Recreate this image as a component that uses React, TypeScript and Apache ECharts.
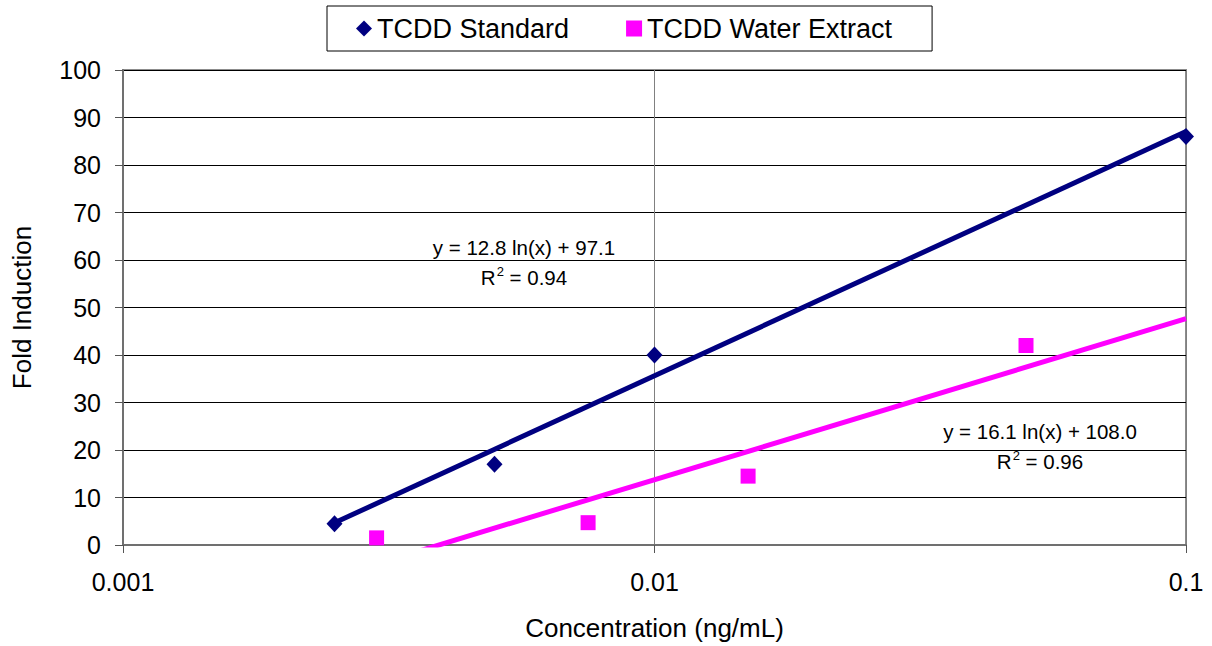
import React, { useEffect, useRef } from "react";
import * as echarts from "echarts";

// ---- Data ----
const standardX = [0.0025, 0.005, 0.01, 0.1];
const standardY = [4.5, 17, 40, 86];
const waterX = [0.003, 0.0075, 0.015, 0.05];
const waterY = [1.5, 4.7, 14.5, 42];

// trend line x extents (Excel trendline, water extract forecast forward to 0.1)
const standardTrendX = [0.0025, 0.1];
const waterTrendX = [0.003, 0.1];

const seriesNames = ["TCDD Standard", "TCDD Water Extract"];
const xTickLabels: Record<string, string> = { "0.001": "0.001", "0.01": "0.01", "0.1": "0.1" };
const standardEquation = ["y = 12.8 ln(x) + 97.1", "0.94"];
const waterEquation = ["y = 16.1 ln(x) + 108.0", "0.96"];

const FONT = "'Liberation Sans', Arial, Helvetica, sans-serif";

function fitLog(xs: number[], ys: number[]) {
  const lx = xs.map((x) => Math.log(x));
  const n = xs.length;
  const mx = lx.reduce((s, v) => s + v, 0) / n;
  const my = ys.reduce((s, v) => s + v, 0) / n;
  let sxy = 0;
  let sxx = 0;
  for (let i = 0; i < n; i++) {
    sxy += (lx[i] - mx) * (ys[i] - my);
    sxx += (lx[i] - mx) * (lx[i] - mx);
  }
  const a = sxy / sxx;
  const b = my - a * mx;
  return (x: number) => a * Math.log(x) + b;
}

function eqText(x: number, y: number, eq: string[]) {
  return [
    {
      type: "text",
      x,
      y,
      style: {
        text: eq[0],
        font: `20.5px ${FONT}`,
        fill: "#000",
        align: "center",
        verticalAlign: "middle",
      },
    },
    {
      type: "text",
      x,
      y: y + 30,
      style: {
        text: `{b|R}{s|2}{b| = ${eq[1]}}`,
        align: "center",
        verticalAlign: "middle",
        rich: {
          b: { fontSize: 20.5, fontFamily: FONT, fill: "#000", lineHeight: 24 },
          s: { fontSize: 13, fontFamily: FONT, fill: "#000", lineHeight: 24, verticalAlign: "top", padding: [0, 0, 0, 1] },
        },
      },
    },
  ];
}

export default function App() {
  const ref = useRef<HTMLDivElement>(null);

  useEffect(() => {
    if (!ref.current) return;
    const chart = echarts.init(ref.current, null, { renderer: "svg" });
    const fStd = fitLog(standardX, standardY);
    const fWater = fitLog(waterX, waterY);

    chart.setOption({
      animation: false,
      backgroundColor: "#fff",
      textStyle: { fontFamily: FONT },
      grid: {
        left: 123,
        right: 26,
        top: 70,
        bottom: 101,
        show: true,
        borderColor: "#8c8c8c",
        borderWidth: 2,
      },
      legend: {
        data: seriesNames,
        left: 327,
        top: 6,
        padding: [9, 40, 9, 29],
        itemGap: 57,
        itemWidth: 16,
        itemHeight: 16,
        borderColor: "#000",
        borderWidth: 1,
        borderRadius: 0,
        textStyle: { fontSize: 27, color: "#000", fontFamily: FONT },
      },
      xAxis: {
        type: "log",
        logBase: 10,
        min: 0.001,
        max: 0.1,
        name: "Concentration (ng/mL)",
        nameLocation: "middle",
        nameGap: 70,
        nameTextStyle: { fontSize: 26, color: "#000", fontFamily: FONT },
        axisLine: { show: true, onZero: false, lineStyle: { color: "#707070", width: 2 } },
        axisTick: { show: true, length: 8, lineStyle: { color: "#555", width: 1 } },
        minorTick: { show: false },
        axisLabel: {
          fontSize: 25,
          color: "#000",
          margin: 24,
          fontFamily: FONT,
          formatter: (v: number) => {
            const k = String(Number(v.toPrecision(3)));
            return xTickLabels[k] ?? k;
          },
        },
        splitLine: { show: true, lineStyle: { color: "#808080", width: 1 } },
      },
      yAxis: {
        type: "value",
        min: 0,
        max: 100,
        interval: 10,
        name: "Fold Induction",
        nameLocation: "middle",
        nameRotate: 90,
        nameGap: 88,
        nameTextStyle: { fontSize: 26, color: "#000", fontFamily: FONT },
        axisLine: { show: true, lineStyle: { color: "#707070", width: 2 } },
        axisTick: { show: true, length: 8, lineStyle: { color: "#555", width: 1 } },
        axisLabel: { fontSize: 25, color: "#000", margin: 22, fontFamily: FONT },
        splitLine: { show: true, lineStyle: { color: "#000", width: 1 } },
      },
      graphic: [...eqText(524, 247, standardEquation), ...eqText(1040, 431, waterEquation)],
      series: [
        {
          name: "TCDD Standard Trend",
          type: "line",
          data: standardTrendX.map((x) => [x, fStd(x)]),
          showSymbol: false,
          symbol: "none",
          clip: true,
          lineStyle: { color: "#000080", width: 5 },
          z: 2,
          silent: true,
        },
        {
          name: "TCDD Water Extract Trend",
          type: "line",
          data: waterTrendX.map((x) => [x, fWater(x)]),
          showSymbol: false,
          symbol: "none",
          clip: true,
          lineStyle: { color: "#FF00FF", width: 5 },
          z: 2,
          silent: true,
        },
        {
          name: seriesNames[0],
          type: "scatter",
          symbol: "diamond",
          symbolSize: [16, 17],
          itemStyle: { color: "#000080", opacity: 1 },
          data: standardX.map((x, i) => [x, standardY[i]]),
          clip: false,
          z: 5,
        },
        {
          name: seriesNames[1],
          type: "scatter",
          symbol: "rect",
          symbolSize: 15,
          itemStyle: { color: "#FF00FF", opacity: 1 },
          data: waterX.map((x, i) => [x, waterY[i]]),
          clip: false,
          z: 5,
        },
      ],
    });
    return () => chart.dispose();
  }, []);

  return (
    <div
      ref={ref}
      style={{ position: "absolute", left: 0, top: 0, width: 1212, height: 646 }}
    />
  );
}
